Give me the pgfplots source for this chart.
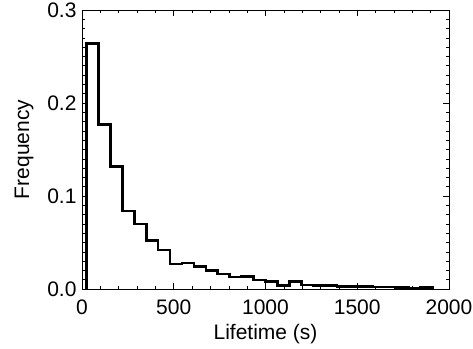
\documentclass[border=0pt]{standalone}
\usepackage{pgfplots}
\pgfplotsset{compat=1.18}
\usepackage{fontspec}
\setmainfont{Liberation Sans}
\begin{document}
\begin{tikzpicture}
\path[use as bounding box] (-82pt,-59pt) rectangle (391pt,289pt);
\begin{axis}[
  at={(0,0)}, anchor=south west,
  scale only axis, width=367pt, height=279pt,
  xmin=0, xmax=2000, ymin=0, ymax=0.3,
  xtick={0,500,1000,1500,2000},
  ytick={0,0.1,0.2,0.3},
  minor x tick num=4, minor y tick num=9,
  tick align=inside,
  major tick length=6pt, minor tick length=3pt,
  tick style={black, line width=0.6pt},
  axis line style={line width=0.8pt},
  yticklabel style={/pgf/number format/fixed, /pgf/number format/fixed zerofill, /pgf/number format/precision=1, xshift=-2pt},
  xticklabel style={/pgf/number format/1000 sep={}, yshift=-7pt},
  /pgf/number format/assume math mode=true,
  ticklabel style={font=\fontsize{21}{24}\selectfont},
  label style={font=\fontsize{21}{24}\selectfont},
  xlabel={Lifetime (s)}, ylabel={Frequency},
  xlabel style={yshift=-3pt},
  ylabel style={yshift=7pt},
  scaled y ticks=false,
]
\addplot[const plot mark left, black, line width=2.6pt, line join=miter] coordinates {
(25,0) (25,0.264) (90,0.177) (155,0.132) (220,0.084) (285,0.070) (350,0.052)
(415,0.042) (480,0.027) (545,0.028) (610,0.024) (675,0.020) (740,0.016)
(805,0.013) (870,0.0135) (935,0.0095) (1000,0.008) (1065,0.0035) (1130,0.008)
(1195,0.0045) (1260,0.004) (1325,0.0035) (1390,0.003) (1455,0.0028)
(1520,0.0025) (1585,0.002) (1650,0.002) (1715,0.0015) (1780,0.0012)
(1845,0.0015) (1910,0)
};
\end{axis}
\end{tikzpicture}
\end{document}
